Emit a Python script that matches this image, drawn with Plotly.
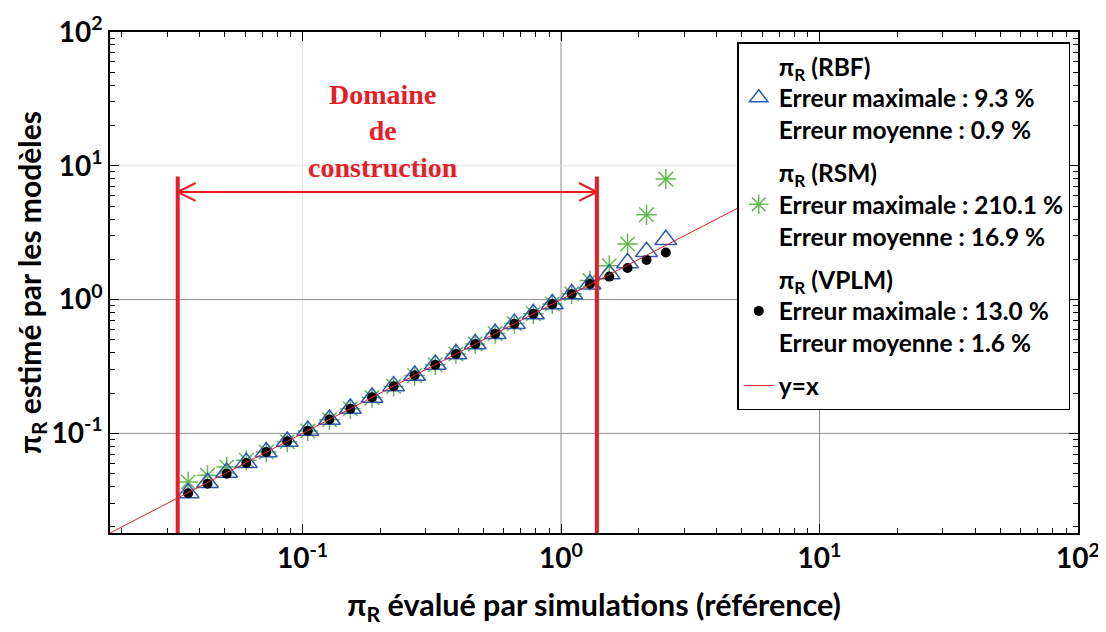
import numpy as np
import plotly.graph_objects as go

# ---------------- data ----------------
x_ref = [0.0361, 0.0429, 0.0509, 0.0606, 0.0724, 0.0873, 0.1048, 0.1271, 0.1532, 0.1858,
         0.2252, 0.2715, 0.3263, 0.3921, 0.4656, 0.5561, 0.660, 0.7816, 0.9256, 1.0999,
         1.294, 1.537, 1.809, 2.142, 2.544]
y_rbf = [0.0358, 0.0427, 0.0510, 0.0604, 0.0726, 0.0870, 0.1050, 0.1268, 0.1535, 0.1855,
         0.2255, 0.2710, 0.3268, 0.3915, 0.4660, 0.5555, 0.6610, 0.7805, 0.9265, 1.0990,
         1.300, 1.550, 1.880, 2.280, 2.800]
y_rsm = [0.0433, 0.0486, 0.0561, 0.0629, 0.0726, 0.0866, 0.1040, 0.1262, 0.1525, 0.1850,
         0.2245, 0.2708, 0.3258, 0.3925, 0.4665, 0.5570, 0.6615, 0.7830, 0.9280, 1.1050,
         1.386, 1.790, 2.600, 4.310, 7.950]
y_vplm = [0.0357, 0.0421, 0.0500, 0.0601, 0.0726, 0.0872, 0.1046, 0.1270, 0.1530, 0.1860,
          0.2250, 0.2718, 0.3260, 0.3918, 0.4650, 0.5565, 0.6600, 0.7820, 0.9250, 1.1010,
          1.310, 1.485, 1.720, 1.980, 2.250]
identity_x = [0.018, 10]

domain_bounds = [0.0329, 1.377]
domain_top = 8.3
arrow_level = 6.37

axis_min = 0.018
axis_max = 100
decade_vals = [0.1, 1, 10, 100]
decade_text = ["10<sup>-1</sup>", "10<sup>0</sup>", "10<sup>1</sup>", "10<sup>2</sup>"]
minor_vals = [m * 10.0 ** p for p in (-2, -1, 0, 1) for m in range(2, 10)]

legend_rbf = "π<sub>R</sub> (RBF)<br>Erreur maximale : 9.3 %<br>Erreur moyenne : 0.9 %"
legend_rsm = "π<sub>R</sub> (RSM)<br>Erreur maximale : 210.1 %<br>Erreur moyenne : 16.9 %"
legend_vplm = "π<sub>R</sub> (VPLM)<br>Erreur maximale : 13.0 %<br>Erreur moyenne : 1.6 %"
legend_id = "y=x"
domain_label = "Domaine<br>de<br>construction"
x_title = "π<sub>R</sub> évalué par simulations (référence)"
y_title = "π<sub>R</sub> estimé par les modèles"

# ---------------- styles ----------------
RED = "#ed1c24"
BLUE = "#2b5cb8"
GREEN = "#62bd4f"
FONT = "Lato"

fig = go.Figure()

fig.add_trace(go.Scatter(x=x_ref, y=y_rsm, mode="markers", name=legend_rsm,
                         legendgroup="rsm", legendrank=2,
                         marker=dict(symbol="asterisk-open", size=17, color=GREEN,
                                     line=dict(color=GREEN, width=1.5))))
fig.add_trace(go.Scatter(x=x_ref, y=y_rbf, mode="markers", name=legend_rbf,
                         legendgroup="rbf", legendrank=1,
                         marker=dict(symbol="triangle-up-open", size=19, color=BLUE,
                                     line=dict(color=BLUE, width=1.5))))
fig.add_trace(go.Scatter(x=x_ref, y=y_vplm, mode="markers", name=legend_vplm,
                         legendgroup="vplm", legendrank=3,
                         marker=dict(symbol="circle", size=10, color="black")))
fig.add_trace(go.Scatter(x=identity_x, y=identity_x, mode="lines", name=legend_id,
                         legendgroup="id", legendrank=4,
                         line=dict(color=RED, width=1)))

# domain of construction: vertical bounds, double arrow
lo, hi = domain_bounds
fig.add_trace(go.Scatter(x=[lo, lo, None, hi, hi], y=[axis_min, domain_top, None, axis_min, domain_top],
                         mode="lines", line=dict(color=RED, width=4), showlegend=False,
                         hoverinfo="skip"))
kx = 10 ** (18 / 259)
ky = 10 ** (9 / 134)
fig.add_trace(go.Scatter(
    x=[lo, hi, None, lo * kx, lo, lo * kx, None, hi / kx, hi, hi / kx],
    y=[arrow_level, arrow_level, None, arrow_level * ky, arrow_level, arrow_level / ky,
       None, arrow_level * ky, arrow_level, arrow_level / ky],
    mode="lines", line=dict(color=RED, width=2), showlegend=False, hoverinfo="skip"))

fig.add_annotation(text=domain_label, xref="paper", yref="paper", x=0.282, y=0.802,
                   xanchor="center", yanchor="middle", showarrow=False,
                   font=dict(family="Liberation Serif", size=28, color=RED, weight="bold"))

# grid lines at decades
grid_specs = [("x", 0.1, "#e4e4e4"), ("x", 1, "#8f8f8f"), ("x", 10, "#8f8f8f"),
              ("y", 10, "#e4e4e4"), ("y", 1, "#8f8f8f"), ("y", 0.1, "#8f8f8f")]
for axis, v, col in grid_specs:
    if axis == "x":
        fig.add_shape(type="line", xref="x", yref="paper", x0=v, x1=v, y0=0, y1=1,
                      line=dict(color=col, width=1), layer="below")
    else:
        fig.add_shape(type="line", xref="paper", yref="y", x0=0, x1=1, y0=v, y1=v,
                      line=dict(color=col, width=1), layer="below")

axis_common = dict(
    type="log", range=[np.log10(axis_min), np.log10(axis_max)],
    showline=True, linecolor="black", linewidth=1.5, mirror="allticks",
    ticks="inside", ticklen=9, tickwidth=1, tickcolor="black",
    showgrid=False, zeroline=False,
    tickmode="array", tickvals=decade_vals, ticktext=decade_text,
    tickfont=dict(family=FONT, size=28, color="black", weight="bold"),
    minor=dict(ticks="inside", ticklen=5, tickwidth=1, tickcolor="black",
               tickmode="array", tickvals=minor_vals, showgrid=False),
)

fig.update_xaxes(**axis_common,
                 title=dict(text=x_title, font=dict(family=FONT, size=30.5, color="black", weight="bold"),
                            standoff=21))
fig.update_yaxes(**axis_common,
                 title=dict(text=y_title, font=dict(family=FONT, size=30, color="black", weight="bold"),
                            standoff=0))

fig.update_layout(
    width=1098, height=624,
    margin=dict(l=102, r=28, t=24, b=99, autoexpand=False),
    paper_bgcolor="white", plot_bgcolor="white",
    font=dict(family=FONT, color="black"),
    legend=dict(x=0.648, y=0.98, xanchor="left", yanchor="top",
                traceorder="grouped", tracegroupgap=8,
                bgcolor="white", bordercolor="black", borderwidth=1.5,
                font=dict(family=FONT, size=24.5, color="black", weight="bold")),
)

fig.write_html("out.html")
